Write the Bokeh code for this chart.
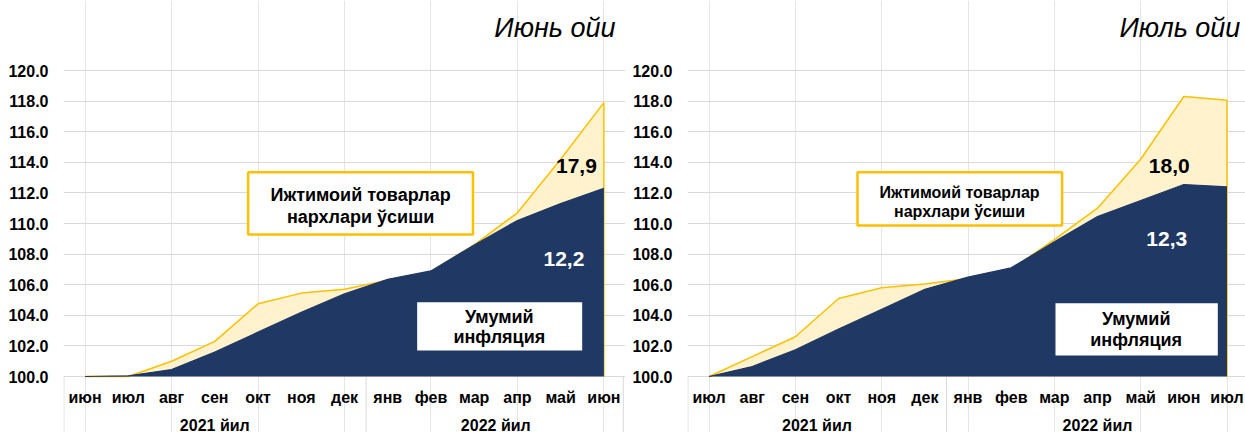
from bokeh.plotting import figure
from bokeh.layouts import row
from bokeh.models import FixedTicker, PrintfTickFormatter, Range1d
from bokeh.core.properties import value
from bokeh.embed import file_html
from bokeh.resources import INLINE

# ---------------- data ----------------
months_left = ["июн", "июл", "авг", "сен", "окт", "ноя", "дек",
               "янв", "фев", "мар", "апр", "май", "июн"]
general_left = [100.0, 100.05, 100.45, 101.6, 102.9, 104.2, 105.4,
                106.35, 106.9, 108.6, 110.2, 111.3, 112.3]
social_left = [100.0, 100.0, 101.0, 102.3, 104.75, 105.45, 105.7,
               106.3, 106.85, 108.6, 110.7, 114.2, 117.9]

months_right = ["июл", "авг", "сен", "окт", "ноя", "дек",
                "янв", "фев", "мар", "апр", "май", "июн", "июл"]
general_right = [100.0, 100.65, 101.75, 103.1, 104.4, 105.7,
                 106.5, 107.1, 108.8, 110.45, 111.5, 112.55, 112.4]
social_right = [100.0, 101.3, 102.6, 105.1, 105.8, 106.05,
                106.4, 107.0, 108.95, 111.0, 114.2, 118.3, 118.05]

years = ["2021 йил", "2022 йил"]
titles = ["Июнь ойи", "Июль ойи"]
box_social = ["Ижтимоий товарлар", "нархлари ўсиши"]
box_general = ["Умумий", "инфляция"]
labels_left = ["17,9", "12,2"]
labels_right = ["18,0", "12,3"]
y_ticks = [100, 102, 104, 106, 108, 110, 112, 114, 116, 118, 120]

# ---------------- style ----------------
FONT = "Liberation Sans"
NAVY = "#203864"
GOLD = "#FFC000"
CREAM = "#FFF2CC"
GRID = "#D9D9D9"
PX_PER_UNIT = 15.3
HEIGHT = 432
BASE_PX = 376          # screen row of the 100.0 line
Y0 = 100 - (HEIGHT - BASE_PX) / PX_PER_UNIT
Y1 = 100 + BASE_PX / PX_PER_UNIT


def make_chart(months, general, social, years_split, title, labels, cfg):
    p = figure(width=cfg["width"], height=HEIGHT, output_backend="svg",
               toolbar_location=None, x_axis_location=None,
               x_range=Range1d(-0.5, cfg["x_end"]), y_range=Range1d(Y0, Y1),
               min_border_left=cfg["border"], min_border_right=0,
               min_border_top=0, min_border_bottom=0)
    p.outline_line_color = None
    p.background_fill_color = "white"
    p.border_fill_color = "white"

    ax = p.yaxis[0]
    ax.ticker = FixedTicker(ticks=y_ticks)
    ax.formatter = PrintfTickFormatter(format="%.1f")
    ax.axis_line_color = None
    ax.major_tick_line_color = None
    ax.minor_tick_line_color = None
    ax.major_label_standoff = 9
    ax.major_label_text_font = FONT
    ax.major_label_text_font_size = "16px"
    ax.major_label_text_font_style = "bold"
    ax.major_label_text_color = "#000000"
    p.ygrid.ticker = FixedTicker(ticks=y_ticks)
    p.ygrid.grid_line_color = GRID
    p.ygrid.grid_line_width = 1

    xs = list(range(len(months)))
    n = len(months)

    # category box lines
    p.segment(x0=[-0.49, years_split - 0.5, cfg["right_line"]], y0=[100] * 3,
              x1=[-0.49, years_split - 0.5, cfg["right_line"]], y1=[Y0] * 3,
              line_color=GRID, line_width=1)

    # social goods area (behind)
    p.varea(x=xs, y1=[100] * n, y2=social, fill_color=CREAM)
    p.line(x=xs + [xs[-1]], y=social + [100], line_color=GOLD, line_width=1.5)
    # general inflation area (front)
    p.varea(x=xs, y1=[100] * n, y2=general, fill_color=NAVY)
    p.line(x=xs, y=general, line_color=NAVY, line_width=1.2)

    # month labels and years
    p.text(x=xs, y=[100 - 20.7 / PX_PER_UNIT] * n, text=months,
           text_font=value(FONT), text_font_size="16px", text_font_style="bold",
           text_align="center", text_baseline="middle", text_color="#000000")
    p.text(x=[(years_split - 1) / 2, cfg["year2_x"]],
           y=[100 - 48.5 / PX_PER_UNIT] * 2, text=years,
           text_font=value(FONT), text_font_size="16px", text_font_style="bold",
           text_align="center", text_baseline="middle", text_color="#000000")

    # title
    p.text(x=[cfg["title_x"]], y=[100 + 349 / PX_PER_UNIT], text=[title],
           text_font=value(FONT), text_font_size="27px", text_font_style="italic",
           text_align="right", text_baseline="middle", text_color="#000000")

    # social goods box
    sb = cfg["sbox"]
    p.quad(left=[sb[0]], right=[sb[1]], top=[sb[2]], bottom=[sb[3]],
           fill_color="white", line_color=GOLD, line_width=2.5)
    p.text(x=[sb[4]] * 2, y=[sb[5], sb[6]], text=box_social,
           text_font=value(FONT), text_font_size=cfg["sfont"], text_font_style="bold",
           text_align="center", text_baseline="middle", text_color="#000000")

    # general inflation box
    gb = cfg["gbox"]
    p.quad(left=[gb[0]], right=[gb[1]], top=[gb[2]], bottom=[gb[3]],
           fill_color="white", line_color=None)
    p.text(x=[gb[4]] * 2, y=[gb[5], gb[6]], text=box_general,
           text_font=value(FONT), text_font_size="18px", text_font_style="bold",
           text_align="center", text_baseline="middle", text_color="#000000")

    # value labels
    lp = cfg["labels"]
    p.text(x=[lp[0][0]], y=[lp[0][1]], text=[labels[0]],
           text_font=value(FONT), text_font_size="21px", text_font_style="bold",
           text_align="center", text_baseline="middle", text_color="#000000")
    p.text(x=[lp[1][0]], y=[lp[1][1]], text=[labels[1]],
           text_font=value(FONT), text_font_size="21px", text_font_style="bold",
           text_align="center", text_baseline="middle", text_color="#FFFFFF")
    return p


cfg_left = dict(width=625, border=63, x_end=12.5, right_line=12.45, year2_x=9.5,
                title_x=12.27,
                sbox=(3.771, 8.972, 113.353, 109.281, 6.371, 111.876, 110.412),
                sfont="18px",
                gbox=(7.681, 11.498, 104.856, 101.699, 9.581, 103.92, 102.61),
                labels=((11.365, 113.79), (11.076, 107.67)))
cfg_right = dict(width=620, border=62, x_end=-0.5 + 558 / 43.16, right_line=12.6,
                 year2_x=9.0, title_x=12.31,
                 sbox=(3.439, 8.179, 113.353, 109.869, 5.802, 112.046, 110.784),
                 sfont="16px",
                 gbox=(8.026, 11.787, 104.79, 101.373, 9.896, 103.77, 102.353),
                 labels=((10.661, 113.74), (10.605, 108.97)))

p1 = make_chart(months_left, general_left, social_left, 7, titles[0], labels_left, cfg_left)
p2 = make_chart(months_right, general_right, social_right, 6, titles[1], labels_right, cfg_right)

layout = row(p1, p2, spacing=0)
open("out.html", "w").write(file_html(layout, INLINE))
